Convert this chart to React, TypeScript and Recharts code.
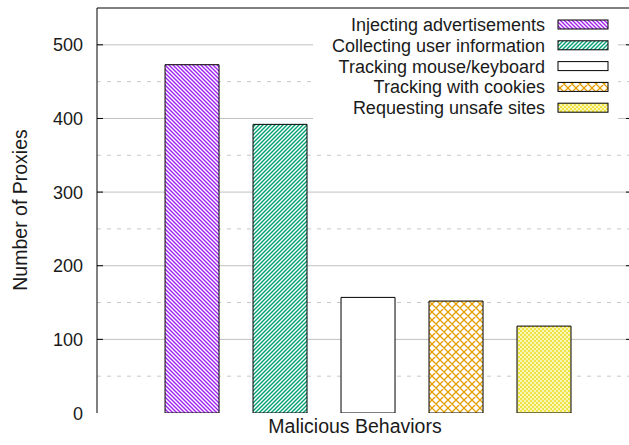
import React from 'react';
import { BarChart, Bar, XAxis, YAxis, CartesianGrid, Cell, Customized } from 'recharts';

const categories = [
  'Injecting advertisements',
  'Collecting user information',
  'Tracking mouse/keyboard',
  'Tracking with cookies',
  'Requesting unsafe sites',
];
const positions = [0, 1, 2, 3, 4];
const proxies = [473, 392, 157, 152, 118];
const yTicks = [0, 100, 200, 300, 400, 500];
const majorGrid = [100, 200, 300, 400, 500];
const minorGrid = [50, 150, 250, 350, 450];
const yDomain = [0, 550];
const fills = ['url(#pPurple)', 'url(#pGreen)', '#ffffff', 'url(#pOrange)', 'url(#pYellow)'];

const data = categories.map((name, i) => ({ name, x: positions[i], value: proxies[i] }));

const FONT = '"Liberation Sans", Arial, Helvetica, sans-serif';
const PLOT_RIGHT = 632;

const mapY = (props: any, v: number) => {
  const s = props?.yAxis?.scale;
  if (typeof s === 'function') return s(v);
  if (s && typeof s.map === 'function') return s.map(v);
  const off = props?.offset;
  return off.top + off.height * (1 - (v - yDomain[0]) / (yDomain[1] - yDomain[0]));
};

const YTick = (props: any) => {
  const { x, y, payload } = props;
  const left = x + 14;
  return (
    <g>
      <text x={x} y={y} dy={6.5} textAnchor="end" fontSize={18} fontFamily={FONT} fill="#1a1a1a">
        {payload.value}
      </text>
      {payload.value > 0 && (
        <>
          <line x1={left} x2={left + 6} y1={y} y2={y} stroke="#000" strokeWidth={1} />
          <line x1={PLOT_RIGHT - 6} x2={PLOT_RIGHT} y1={y} y2={y} stroke="#000" strokeWidth={1} />
        </>
      )}
    </g>
  );
};

const Overlay = () => {
  const rowY = [24.5, 45.3, 66.1, 86.9, 107.7];
  return (
    <g fontFamily={FONT}>
      <line x1={97} x2={PLOT_RIGHT} y1={8} y2={8} stroke="#000" strokeWidth={1} />
      <rect x={313} y={12} width={305} height={108} fill="#ffffff" />
      {categories.map((c, i) => (
        <g key={c}>
          <text x={545} y={rowY[i] + 6.4} textAnchor="end" fontSize={18} fill="#1a1a1a">
            {c}
          </text>
          <rect x={558} y={rowY[i] - 4.5} width={50} height={9} fill={fills[i]} stroke="#000" strokeWidth={1} />
        </g>
      ))}
      <text x={355} y={433} textAnchor="middle" fontSize={19.5} fill="#1a1a1a">
        Malicious Behaviors
      </text>
      <text transform="translate(27,210) rotate(-90)" textAnchor="middle" fontSize={19.5} fill="#1a1a1a">
        Number of Proxies
      </text>
    </g>
  );
};

export default function App() {
  return (
    <div style={{ position: 'absolute', left: 0, top: 0, width: 629, height: 445, overflow: 'hidden', background: '#fff' }}>
      <BarChart width={635} height={445} data={data} margin={{ top: 8, right: 3, bottom: 32, left: 0 }}>
        <defs>
          <pattern id="pPurple" patternUnits="userSpaceOnUse" width={4} height={4}>
            <rect width={4} height={4} fill="#fff" />
            <path d="M0,0 L4,4 M-1,3 L1,5 M3,-1 L5,1" stroke="#a020f0" strokeWidth={1.4} />
          </pattern>
          <pattern id="pGreen" patternUnits="userSpaceOnUse" width={4} height={4}>
            <rect width={4} height={4} fill="#fff" />
            <path d="M0,4 L4,0 M-1,1 L1,-1 M3,5 L5,3" stroke="#009e73" strokeWidth={1.4} />
          </pattern>
          <pattern id="pOrange" patternUnits="userSpaceOnUse" width={8} height={8}>
            <rect width={8} height={8} fill="#fff" />
            <path
              d="M0,0 L8,8 M8,0 L0,8 M-1,7 L1,9 M7,-1 L9,1 M-1,1 L1,-1 M7,9 L9,7"
              stroke="#e69f00"
              strokeWidth={1.3}
            />
          </pattern>
          <pattern id="pYellow" patternUnits="userSpaceOnUse" width={4} height={4}>
            <rect width={4} height={4} fill="#f0e442" />
            <rect x={0.2} y={0.2} width={1.6} height={1.6} fill="#fff" />
            <rect x={2.2} y={2.2} width={1.6} height={1.6} fill="#fff" />
          </pattern>
        </defs>
        <CartesianGrid
          vertical={false}
          stroke="#c8c8c8"
          strokeDasharray="4 6"
          syncWithTicks={false}
          horizontalCoordinatesGenerator={(p: any) => minorGrid.map((v) => mapY(p, v))}
        />
        <CartesianGrid
          vertical={false}
          stroke="#c0c0c0"
          syncWithTicks={false}
          horizontalCoordinatesGenerator={(p: any) => majorGrid.map((v) => mapY(p, v))}
        />
        <XAxis
          dataKey="x"
          type="number"
          domain={[-1.08, 5]}
          allowDataOverflow
          tick={false}
          tickLine={false}
          height={0}
          axisLine={{ stroke: '#000', strokeWidth: 1 }}
        />
        <YAxis
          width={97}
          domain={yDomain}
          ticks={yTicks}
          allowDataOverflow
          tickSize={0}
          tickMargin={14}
          tickLine={false}
          axisLine={{ stroke: '#000', strokeWidth: 1 }}
          tick={<YTick />}
          interval={0}
        />
        <Bar dataKey="value" barSize={54} isAnimationActive={false} stroke="#000" strokeWidth={1}>
          {data.map((d, i) => (
            <Cell key={d.name} fill={fills[i]} />
          ))}
        </Bar>
        <Customized component={<Overlay />} />
      </BarChart>
    </div>
  );
}
